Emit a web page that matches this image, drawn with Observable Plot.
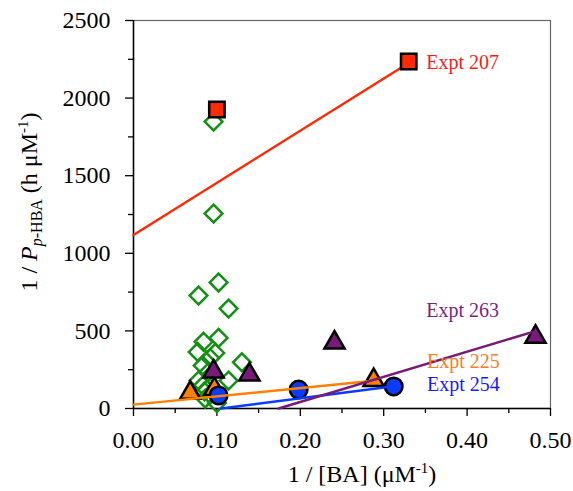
<!DOCTYPE html>
<html><head><meta charset="utf-8">
<script src="https://cdn.jsdelivr.net/npm/d3@7"></script>
<script src="https://cdn.jsdelivr.net/npm/@observablehq/plot@0.6"></script>
<style>body{margin:0;background:#fff} #chart{width:573px;height:491px}
#chart svg, #chart svg text, #chart svg g {font-family:'Liberation Serif','Times New Roman',serif !important;}</style>
</head><body><div id="chart"></div>
<script>
// Tick values
const xTicks = [0, 0.1, 0.2, 0.3, 0.4, 0.5];
const xMinor = [0.05, 0.15, 0.25, 0.35, 0.45];
const yTicks = [0, 500, 1000, 1500, 2000, 2500];
const yMinor = [250, 750, 1250, 1750, 2250];

// Series (x = 1/[BA], y = 1/P)
const expt207X = [0.100, 0.330];
const expt207Y = [1927, 2236];
const expt225X = [0.068, 0.097, 0.288];
const expt225Y = [100, 125, 182];
const expt254X = [0.102, 0.198, 0.312];
const expt254Y = [84, 122, 142];
const expt263X = [0.096, 0.139, 0.241, 0.482];
const expt263Y = [238, 218, 424, 462];
const otherX = [0.096, 0.096, 0.102, 0.078, 0.114, 0.102, 0.084, 0.077, 0.098, 0.092, 0.130, 0.083, 0.090, 0.114, 0.078, 0.083, 0.085, 0.086, 0.100, 0.092];
const otherY = [1849, 1256, 812, 728, 644, 455, 430, 364, 358, 325, 298, 277, 235, 180, 180, 148, 110, 64, 35, 90];

// Linear fits
const fitName = ["207", "225", "254", "263"];
const fitIntercept = [1118, 25, -73, -282];
const fitSlope = [3360, 534, 693, 1620];
const fitXStart = [0, 0, 0.105, 0.174];
const fitXEnd = [0.328, 0.288, 0.312, 0.482];

// Labels
const labelText = ["Expt 207", "Expt 263", "Expt 225", "Expt 254"];
const labelX = [0.351, 0.351, 0.352, 0.352];
const labelY = [2230, 630, 302, 153];

const colors = {"207": "#ff2a00", "225": "#ff8000", "254": "#0a3cff", "263": "#7a1a7a"};
const textColors = ["#ff1a1a", "#7d1f7d", "#ff7a22", "#1a1aff"];

const pts = (xs, ys) => xs.map((x, i) => ({x, y: ys[i]}));
const fitLines = fitName.flatMap((n, i) => [fitXStart[i], fitXEnd[i]].map(x => ({name: n, x, y: fitIntercept[i] + fitSlope[i] * x})));
const labels = labelText.map((t, i) => ({t, x: labelX[i], y: labelY[i], c: textColors[i]}));

const font = "'Liberation Serif', 'Times New Roman', serif";

const chart = Plot.plot({
  width: 573, height: 491,
  marginLeft: 133, marginRight: 23, marginTop: 20, marginBottom: 83,
  x: {domain: [0, 0.5]},
  y: {domain: [0, 2500]},
  style: {fontFamily: font, background: "#fff", color: "#000"},
  marks: [
    Plot.frame({stroke: "#666", strokeWidth: 1.2}),
    Plot.axisX({ticks: xTicks, tickSize: 8, tickPadding: 14, tickFormat: d => d.toFixed(2), fontSize: 24, fontFamily: font, label: null, strokeWidth: 1.3}),
    Plot.axisX({ticks: xMinor, tickSize: 5, tickFormat: () => "", label: null, strokeWidth: 1.3}),
    Plot.axisY({ticks: yTicks, tickSize: 8, tickPadding: 15, tickFormat: d => String(d), fontSize: 24, fontFamily: font, label: null, strokeWidth: 1.3}),
    Plot.axisY({ticks: yMinor, tickSize: 5, tickFormat: () => "", label: null, strokeWidth: 1.3}),
    Plot.ruleX([0], {stroke: "#000", strokeWidth: 1.5}),
    Plot.ruleY([0], {stroke: "#000", strokeWidth: 1.5}),
    Plot.dot(pts(otherX, otherY), {x: "x", y: "y", symbol: "diamond2", r: 8, stroke: "#139013", strokeWidth: 2.5, fill: "none"}),
    Plot.dot(pts(expt225X, expt225Y), {x: "x", y: "y", symbol: "triangle", r: 7.5, fill: colors["225"], stroke: "#000", strokeWidth: 2.5}),
    Plot.dot(pts(expt254X, expt254Y), {x: "x", y: "y", symbol: "circle", r: 8.8, fill: colors["254"], stroke: "#000", strokeWidth: 2.5}),
    Plot.dot(pts(expt263X, expt263Y), {x: "x", y: "y", symbol: "triangle", r: 7.5, fill: colors["263"], stroke: "#000", strokeWidth: 2.5}),
    Plot.line(fitLines, {x: "x", y: "y", z: "name", stroke: d => colors[d.name], strokeWidth: 2.5}),
    Plot.dot(pts(expt207X, expt207Y), {x: "x", y: "y", symbol: "square", r: 8.7, fill: colors["207"], stroke: "#000", strokeWidth: 2.5}),
    Plot.text(labels, {x: "x", y: "y", text: "t", fill: d => d.c, textAnchor: "start", fontSize: 20, fontFamily: font})
  ]
});
document.getElementById("chart").appendChild(chart);

const svg = d3.select(chart);
const yl = svg.append("text")
  .attr("transform", "translate(37,202) rotate(-90)")
  .attr("text-anchor", "middle")
  .style("font-family", font).style("font-size", "24px").attr("fill", "#000");
yl.append("tspan").text("1 / ");
yl.append("tspan").attr("font-style", "italic").text("P");
yl.append("tspan").attr("font-size", "16px").attr("dy", "5").attr("font-style", "italic").text("p");
yl.append("tspan").attr("font-size", "16px").text("-HBA");
yl.append("tspan").attr("dy", "-5").text(" (h \u03bcM");
yl.append("tspan").attr("font-size", "15px").attr("dy", "-9").text("-1");
yl.append("tspan").attr("dy", "9").text(")");

const xl = svg.append("text")
  .attr("x", 362).attr("y", 482)
  .attr("text-anchor", "middle")
  .style("font-family", font).style("font-size", "24px").attr("fill", "#000");
xl.append("tspan").text("1 / [BA] (\u03bcM");
xl.append("tspan").attr("font-size", "15px").attr("dy", "-9").text("-1");
xl.append("tspan").attr("dy", "9").text(")");
</script>
</body></html>
